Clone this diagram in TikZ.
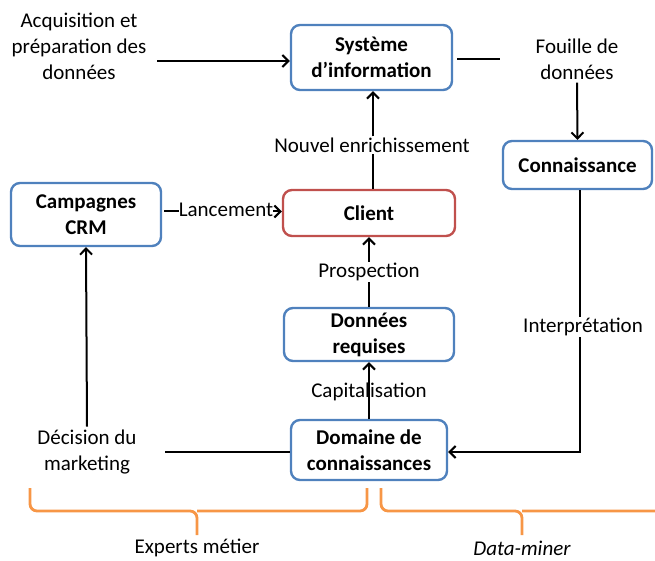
\documentclass[tikz,border=0pt]{standalone}
\usepackage{fontspec}
\setmainfont{Carlito}
\usetikzlibrary{arrows.meta}
\definecolor{boxblue}{RGB}{79,129,189}
\definecolor{boxred}{RGB}{192,80,77}
\definecolor{braceorange}{RGB}{247,150,70}
\begin{document}
\begin{tikzpicture}[x=1pt,y=-1pt,
  font=\fontsize{21}{26}\selectfont,
  box/.style={draw=boxblue,line width=2.4pt,rounded corners=9pt,align=center,font=\fontsize{21}{26}\selectfont\bfseries,inner sep=0pt},
  redbox/.style={box,draw=boxred},
  lbl/.style={align=center,inner sep=1pt},
  arr/.style={line width=2pt,-{Straight Barb[length=6pt,width=12pt,line width=2pt]}},
  ln/.style={line width=2pt},
  brace/.style={draw=braceorange,line width=2.8pt,rounded corners=7pt}]
\useasboundingbox (0,0) rectangle (655,561);
% boxes
\node[box,minimum width=161pt,minimum height=65pt] (si) at (371.5,57.5) {Système\\d’information};
\node[box,minimum width=149pt,minimum height=48pt] (conn) at (577.5,165) {Connaissance};
\node[box,minimum width=150pt,minimum height=63pt] (crm) at (86,214.5) {Campagnes\\CRM};
\node[redbox,minimum width=172pt,minimum height=46pt] (client) at (369,213) {Client};
\node[box,minimum width=170pt,minimum height=53pt] (dr) at (369,334.5) {Données\\requises};
\node[box,minimum width=156pt,minimum height=60pt] (dom) at (369,450) {Domaine de\\connaissances};
% labels
\node[lbl] (acq) at (79,46) {Acquisition et\\préparation des\\données};
\node[lbl] (fouille) at (577,59) {Fouille de\\données};
\node[lbl] (enrich) at (372,145) {Nouvel enrichissement};
\node[lbl] (prosp) at (369,272) {Prospection};
\node[lbl] (interp) at (583,327) {Interprétation};
\node[lbl] (dec) at (87,452) {Décision du\\marketing};
% connectors
\coordinate (a1) at (157,61);
\draw[arr] (a1) -- (a1 -| si.west);
\coordinate (f1) at (500,59);
\draw[ln] (si.east |- f1) ++(4,0) -- (f1);
\draw[arr] (fouille.south) ++(0,2) -- (conn.north);
\draw[ln] (client.north -| 373,0) -- (enrich.south -| 373,0);
\draw[arr] (enrich.north -| 373,0) -- (si.south -| 373,0);
\draw[arr] (crm.east) ++(2,-3) coordinate (l1) -- (l1 -| client.west);
\node[fill=white,inner sep=0pt] (lanc) at (226,210) {Lancement};
\draw[arr] (prosp.north) -- (client.south);
\draw[ln] (dr.north) -- (prosp.south);
\draw[arr] (dom.north) -- (dr.south);
\node[lbl] (capi) at (369,392) {Capitalisation};
\draw[arr] (dec.north) ++(0,-2) -- (crm.south);
\coordinate (d1) at (165,452);
\draw[ln] (dom.west |- d1) -- (d1);
\draw[ln] (conn.south -| 580,0) -- (interp.north -| 580,0);
\draw[arr] (interp.south -| 580,0) |- (dom.east |- d1);
% braces
\draw[brace] (30,488) |- (197,511) -- (197,535);
\draw[brace] (367,488) |- (197,511);
\draw[brace] (381,488) |- (522,511) -- (522,535);
\draw[brace] (662,488) |- (522,511);
\node[lbl] (experts) at (197,548) {Experts métier};
\node[lbl] (dataminer) at (522,548) {\itshape Data-miner};
\end{tikzpicture}
\end{document}
